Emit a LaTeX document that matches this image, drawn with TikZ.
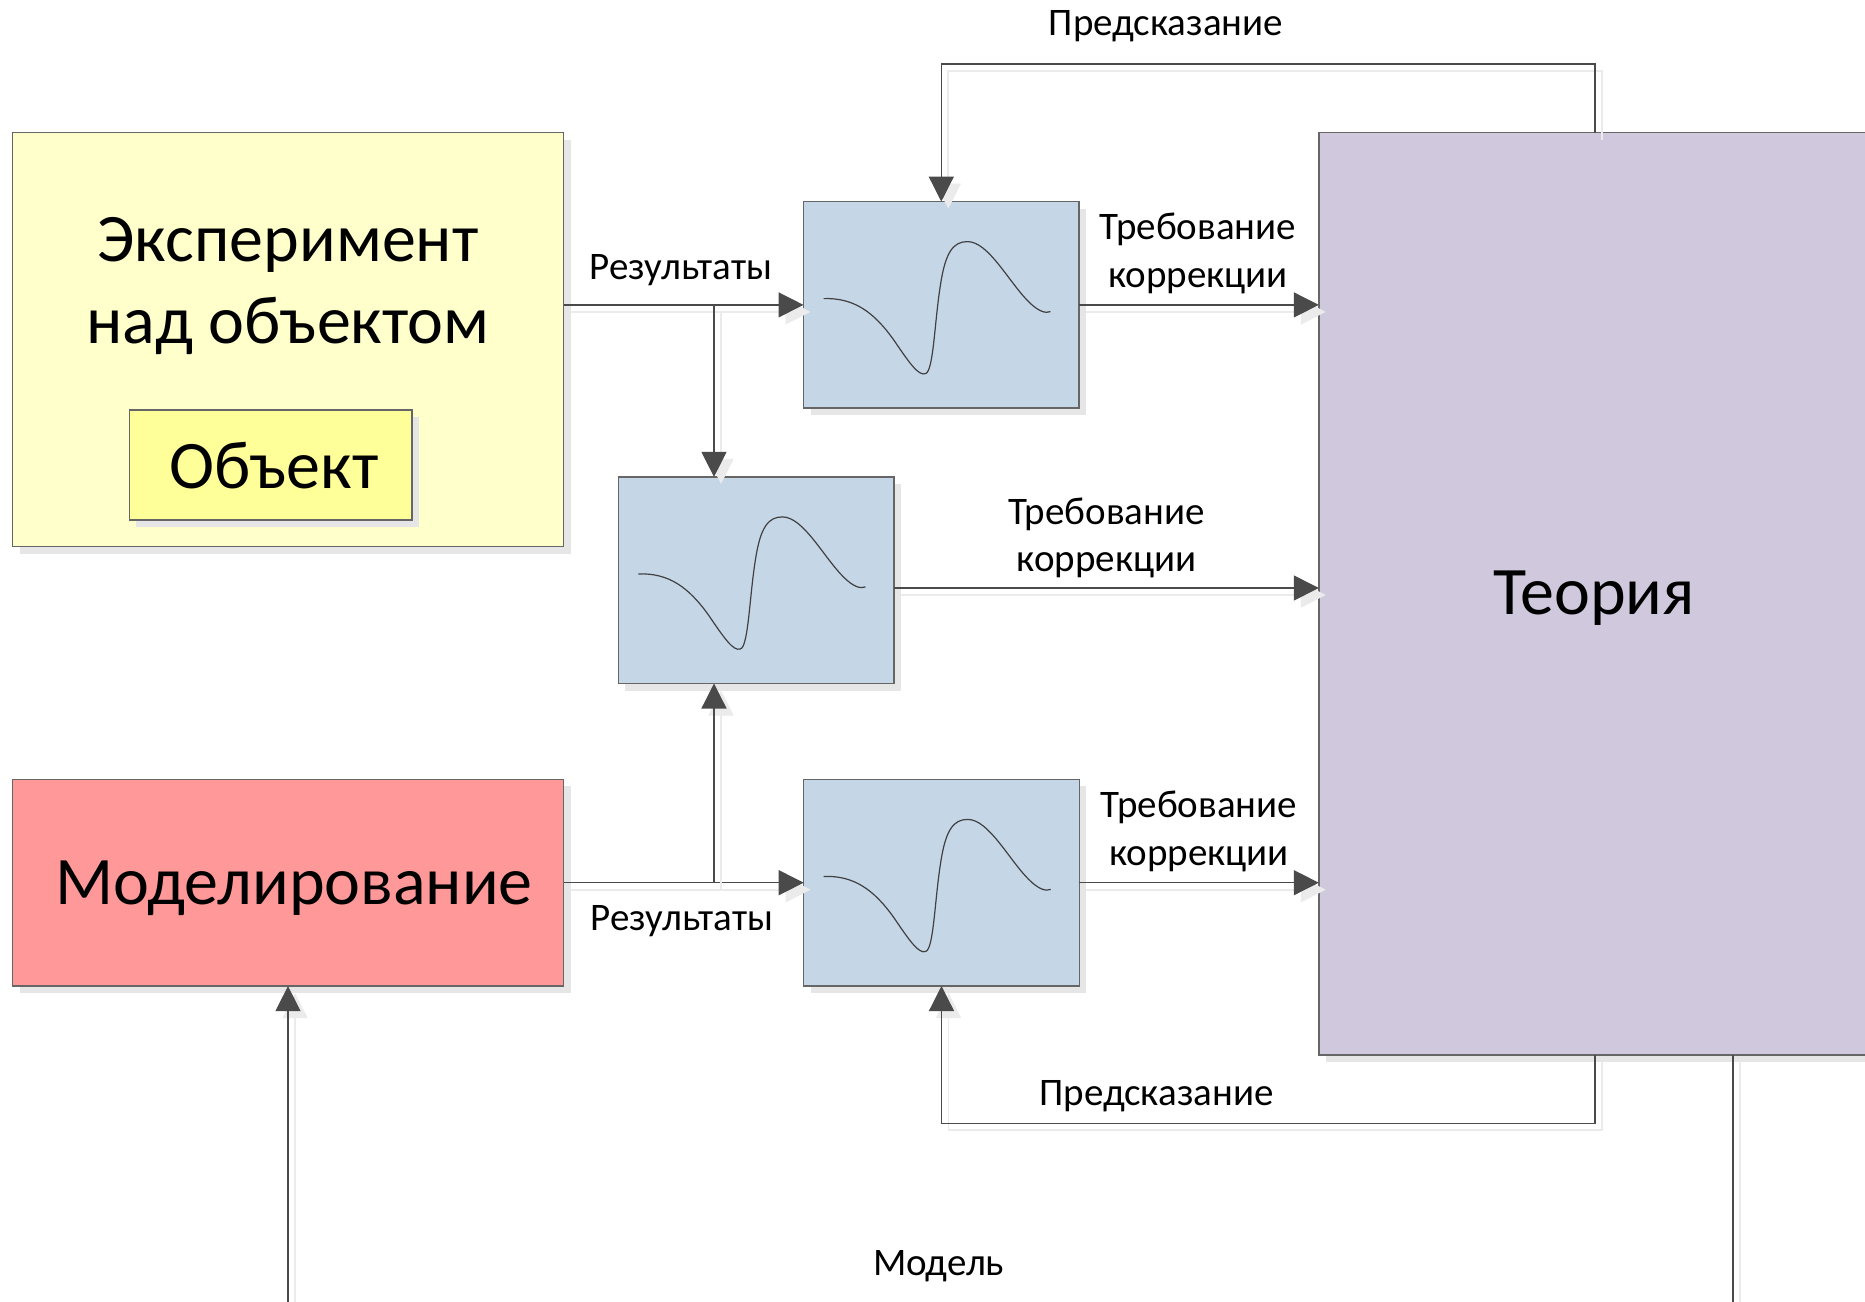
\documentclass[tikz,border=0pt]{standalone}
\usepackage{fontspec}
\setmainfont{Carlito}
\usetikzlibrary{arrows.meta,shadows}
\definecolor{expfill}{HTML}{FFFFCC}
\definecolor{objfill}{HTML}{FFFF99}
\definecolor{modfill}{HTML}{FF9999}
\definecolor{bluefill}{HTML}{C5D6E7}
\definecolor{thfill}{HTML}{D0C8DD}
\definecolor{bordercol}{HTML}{666666}
\definecolor{linecol}{HTML}{4A4A4A}
\definecolor{shadowcol}{HTML}{E6E6E6}
\definecolor{lshadow}{HTML}{EBEBEB}
\newcommand{\lblfont}{\fontsize{19.5pt}{23.8pt}\selectfont}
\newcommand{\bigfont}{\fontsize{34pt}{40.8pt}\selectfont}
\tikzset{
  boxbase/.style={draw=bordercol, line width=0.75pt, rectangle, inner sep=0pt, outer sep=0pt,
    drop shadow={shadow xshift=3.5pt, shadow yshift=-3.5pt, fill=shadowcol, opacity=1}},
  expbox/.style={boxbase, fill=expfill, minimum width=275.5pt, minimum height=207pt},
  objbox/.style={boxbase, fill=objfill, minimum width=141.4pt, minimum height=55pt, font=\bigfont, text depth=0pt},
  modbox/.style={boxbase, fill=modfill, minimum width=275.5pt, minimum height=103.4pt, font=\bigfont, text depth=0pt},
  bluebox/.style={boxbase, fill=bluefill, minimum width=137.8pt, minimum height=103.3pt},
  thbox/.style={boxbase, fill=thfill, minimum width=280.5pt, minimum height=461.2pt},
  lnk/.style={draw=linecol, line width=0.65pt,
    preaction={draw=lshadow, line width=0.9pt, transform canvas={xshift=3.5pt,yshift=-3.5pt}}},
  arr/.style={lnk, -{Triangle[length=12.5pt,width=12.5pt]}},
  lbl/.style={font=\lblfont, inner sep=0pt, anchor=base},
  lbl2/.style={font=\lblfont, inner sep=0pt, anchor=base, align=center},
  bigtxt/.style={font=\bigfont, inner sep=0pt, anchor=base, align=center},
  wave/.style={draw=black!75, line width=0.6pt}
}
\begin{document}
\begin{tikzpicture}[x=0.5pt,y=-0.5pt]
\useasboundingbox[fill=white] (0,0) rectangle (1865,1302);

% boxes
\node[expbox] (exp) at (288.2,339.7) {};
\node[bigtxt] (exptext) at (288,343.3) {Эксперимент\\над объектом};
\node[objbox] (obj) at (270.8,465) {\hspace*{3pt}Объект};
\node[modbox] (mod) at (288,882.7) {\hspace*{6pt}Моделирование};
\node[thbox] (th) at (1599.3,593.9) {};
\node[bigtxt] (thtext) at (1594,614) {Теория};
\node[bluebox] (b1) at (941.3,304.9) {};
\node[bluebox] (b2) at (756.2,580.2) {};
\node[bluebox] (b3) at (941.5,882.7) {};

% waves
\foreach \b in {b1,b2,b3}{
  \begin{scope}[shift={(\b.north west)}]
    \draw[wave] (20,97) .. controls (50,96) and (70,110) .. (90,138)
      .. controls (105,160) and (115,175) .. (122,172)
      .. controls (130,170) and (131,120) .. (137,83)
      .. controls (142,50) and (150,40) .. (164,40)
      .. controls (185,40) and (205,80) .. (225,100)
      .. controls (235,110) and (242,112) .. (247,110);
  \end{scope}
}

% helper coordinates
\coordinate (j1) at (714,305);
\coordinate (j2) at (714,883.3);
\coordinate (r2) at (0,588);
\coordinate (p1) at (1595,64);
\coordinate (p3) at (1595,1123.3);
\coordinate (m1) at (1733,1302);
\coordinate (m2) at (288,1302);

% connectors
\draw[arr] (exp.east |- b1.west) -- (b1.west);
\draw[arr] (j1) -- (b2.north -| j1);
\draw[arr] (mod.east |- b3.west) -- (b3.west);
\draw[arr] (j2) -- (b2.south -| j2);
\draw[arr] (b1.east) -- (b1.east -| th.west);
\draw[arr] (b2.east |- r2) -- (th.west |- r2);
\draw[arr] (b3.east) -- (b3.east -| th.west);
\draw[arr] (th.north -| p1) -- (p1) -| (b1.north);
\draw[arr] (th.south -| p3) -- (p3) -| (b3.south);
\draw[lnk] (th.south -| m1) -- (m1);
\draw[arr] (m2) -- (mod.south);

% labels
\node[lbl] (lpred1) at (1166,35) {Предсказание};
\node[lbl] (lres1) at (681,279.3) {Результаты};
\node[lbl] (lres2) at (682,930.7) {Результаты};
\node[lbl2] (ltr1) at (1198,287) {Требование\\коррекции};
\node[lbl2] (ltr2) at (1106.7,571.7) {Требование\\коррекции};
\node[lbl2] (ltr3) at (1199,865) {Требование\\коррекции};
\node[lbl] (lpred2) at (1156.5,1105) {Предсказание};
\node[lbl] (lmod) at (938.6,1275) {Модель};
\end{tikzpicture}
\end{document}
